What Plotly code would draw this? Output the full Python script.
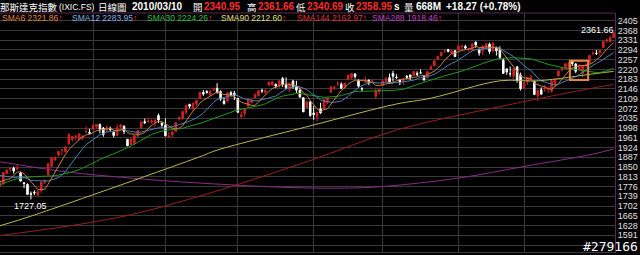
import pandas as pd
import plotly.graph_objects as go

# ---------------- data ----------------
holidays = ["2009-07-03", "2009-09-07", "2009-11-26", "2009-12-25",
            "2010-01-01", "2010-01-18", "2010-02-15"]
dates = [d.strftime("%Y-%m-%d") for d in pd.bdate_range("2009-06-24", "2010-03-10")
         if d.strftime("%Y-%m-%d") not in holidays]

opens = [
    1778.0, 1786.0, 1826.0, 1843.0, 1846.0, 1842.0, 1827.0, 1790.0, 1784.0, 1749.0,
    1755.0, 1744.0, 1762.0, 1792.0, 1820.0, 1853.0, 1877.0, 1895.0, 1915.0, 1908.0,
    1938.0, 1955.0, 1966.0, 1955.0, 1963.0, 1983.0, 1981.0, 1993.0, 2003.0, 2012.0,
    1998.0, 1991.0, 1997.0, 1982.0, 1970.0, 2001.0, 2005.0, 1955.0, 1935.0, 1940.0,
    1968.0, 2000.0, 2022.0, 2022.0, 2021.0, 2018.0, 2045.0, 2017.0, 2008.0, 1964.0,
    1972.0, 1985.0, 2032.0, 2034.0, 2058.0, 2087.0, 2070.0, 2090.0, 2110.0, 2133.0,
    2137.0, 2123.0, 2144.0, 2148.0, 2136.0, 2100.0, 2100.0, 2132.0, 2130.0, 2110.0,
    2040.0, 2053.0, 2081.0, 2095.0, 2112.0, 2120.0, 2141.0, 2133.0, 2161.0, 2161.0,
    2164.0, 2158.0, 2186.0, 2162.0, 2145.0, 2176.0, 2157.0, 2141.0, 2113.0, 2075.0,
    2097.0, 2055.0, 2041.0, 2071.0, 2071.0, 2094.0, 2134.0, 2150.0, 2166.0, 2164.0,
    2152.0, 2181.0, 2189.0, 2203.0, 2180.0, 2147.0, 2171.0, 2180.0, 2176.0, 2119.0,
    2136.0, 2159.0, 2175.0, 2189.0, 2205.0, 2190.0, 2180.0, 2177.0, 2194.0, 2199.0,
    2197.0, 2205.0, 2207.0, 2194.0, 2190.0, 2221.0, 2234.0, 2259.0, 2272.0, 2290.0,
    2296.0, 2281.0, 2291.0, 2294.0, 2308.0, 2307.0, 2298.0, 2292.0, 2324.0, 2297.0,
    2289.0, 2303.0, 2316.0, 2291.0, 2304.0, 2294.0, 2255.0, 2222.0, 2204.0, 2196.0,
    2230.0, 2198.0, 2151.0, 2173.0, 2183.0, 2174.0, 2120.0, 2143.0, 2146.0, 2147.0,
    2137.0, 2162.0, 2195.0, 2222.0, 2225.0, 2228.0, 2250.0, 2241.0, 2222.0, 2205.0,
    2237.0, 2245.0, 2280.0, 2282.0, 2284.0, 2303.0, 2327.0, 2325.0, 2340.95]

highs = [
    1800.5, 1831.0, 1842.0, 1850.0, 1852.0, 1860.0, 1832.0, 1793.0, 1788.0, 1757.0,
    1761.0, 1763.0, 1793.5, 1802.0, 1864.0, 1886.0, 1889.0, 1911.0, 1917.0, 1930.0,
    1977.0, 1967.0, 1969.0, 1977.0, 1970.0, 2004.0, 1995.0, 2009.0, 2012.0, 2014.0,
    2002.0, 2008.0, 2003.0, 1984.0, 2012.0, 2013.0, 2008.0, 1956.0, 1957.0, 1971.0,
    1990.0, 2021.0, 2034.0, 2038.0, 2031.0, 2030.0, 2053.0, 2018.0, 2034.0, 1983.0,
    1985.0, 2019.0, 2040.0, 2064.0, 2084.5, 2090.0, 2093.0, 2104.0, 2134.0, 2142.0,
    2141.0, 2140.0, 2152.0, 2168.0, 2141.0, 2112.0, 2134.0, 2139.0, 2139.0, 2112.0,
    2062.0, 2074.0, 2110.0, 2107.0, 2130.0, 2140.0, 2147.0, 2145.0, 2173.0, 2174.0,
    2166.0, 2180.0, 2191.0, 2190.0, 2170.0, 2181.0, 2177.0, 2150.0, 2114.0, 2099.0,
    2100.0, 2082.0, 2058.0, 2094.0, 2106.0, 2116.0, 2155.0, 2159.0, 2176.0, 2171.0,
    2168.0, 2201.0, 2204.0, 2206.0, 2181.0, 2153.0, 2193.0, 2181.0, 2183.0, 2148.0,
    2146.0, 2180.0, 2192.0, 2204.0, 2215.0, 2202.0, 2184.0, 2186.0, 2199.0, 2200.0,
    2213.0, 2213.0, 2220.0, 2197.0, 2214.0, 2237.0, 2254.0, 2270.0, 2286.0, 2295.0,
    2296.0, 2292.0, 2293.0, 2311.0, 2313.0, 2314.0, 2301.0, 2317.6, 2326.0, 2298.0,
    2313.0, 2322.0, 2322.0, 2321.0, 2306.0, 2308.0, 2262.0, 2224.0, 2231.0, 2226.0,
    2232.0, 2208.0, 2171.5, 2190.5, 2200.0, 2175.0, 2142.0, 2152.0, 2162.0, 2155.0,
    2181.0, 2184.0, 2215.0, 2227.0, 2242.0, 2248.0, 2253.0, 2244.0, 2240.0, 2235.0,
    2244.0, 2274.0, 2290.0, 2294.0, 2293.0, 2327.0, 2336.0, 2346.0, 2361.66]

lows = [
    1776.0, 1783.0, 1822.0, 1832.0, 1825.0, 1840.0, 1795.0, 1770.0, 1745.0, 1727.05,
    1743.0, 1740.0, 1752.0, 1785.0, 1819.0, 1851.0, 1873.0, 1890.0, 1894.0, 1906.0,
    1934.0, 1947.0, 1952.0, 1950.0, 1953.0, 1979.0, 1976.0, 1990.0, 1996.0, 1978.0,
    1965.0, 1981.0, 1985.0, 1962.0, 1968.0, 1995.0, 1975.0, 1929.0, 1933.0, 1935.0,
    1965.0, 1995.0, 2013.0, 2019.0, 2015.0, 2002.0, 2017.0, 1999.0, 1966.0, 1963.0,
    1962.0, 1983.0, 2025.0, 2030.0, 2050.0, 2072.0, 2068.0, 2082.0, 2108.0, 2120.0,
    2128.0, 2119.0, 2137.0, 2130.0, 2101.0, 2086.0, 2098.0, 2117.0, 2104.0, 2056.0,
    2038.0, 2041.0, 2080.0, 2094.0, 2109.0, 2119.0, 2130.0, 2128.0, 2158.0, 2160.0,
    2149.0, 2150.0, 2154.0, 2146.0, 2135.0, 2147.0, 2131.0, 2112.0, 2058.0, 2073.0,
    2041.0, 2029.0, 2024.0, 2051.0, 2070.0, 2089.0, 2131.0, 2143.0, 2156.0, 2146.0,
    2149.0, 2180.0, 2183.0, 2185.0, 2150.0, 2136.0, 2170.0, 2160.0, 2172.0, 2108.0,
    2126.0, 2158.0, 2174.0, 2170.0, 2174.0, 2184.0, 2160.0, 2162.0, 2184.0, 2180.0,
    2195.0, 2195.0, 2203.0, 2178.0, 2186.0, 2220.0, 2232.0, 2255.0, 2272.0, 2283.0,
    2285.0, 2279.0, 2268.0, 2294.0, 2295.0, 2296.0, 2285.0, 2290.0, 2302.0, 2272.0,
    2274.0, 2303.0, 2279.0, 2285.0, 2273.0, 2259.0, 2203.0, 2200.0, 2193.0, 2181.0,
    2170.0, 2140.0, 2145.0, 2162.0, 2181.0, 2125.0, 2100.0, 2126.0, 2135.0, 2131.0,
    2132.0, 2155.0, 2194.0, 2212.0, 2224.0, 2227.0, 2233.0, 2206.0, 2222.0, 2190.0,
    2225.0, 2243.0, 2275.0, 2275.0, 2272.0, 2302.0, 2322.0, 2325.0, 2340.69]

closes = [
    1792.34, 1829.54, 1838.22, 1844.06, 1835.04, 1845.72, 1796.52, 1787.40, 1746.17, 1747.17,
    1752.55, 1756.03, 1793.21, 1799.73, 1862.90, 1885.03, 1886.61, 1909.29, 1916.20, 1926.38,
    1973.60, 1965.96, 1967.89, 1975.51, 1967.76, 1984.30, 1978.50, 2008.61, 2011.31, 1993.05,
    1973.16, 2000.25, 1992.24, 1969.73, 1998.72, 2009.35, 1985.52, 1930.84, 1955.92, 1969.24,
    1989.22, 2020.90, 2017.98, 2024.23, 2024.43, 2027.73, 2028.77, 2009.06, 1968.89, 1967.07,
    1983.20, 2018.78, 2037.77, 2060.39, 2084.02, 2080.90, 2091.78, 2102.64, 2133.15, 2126.75,
    2132.86, 2138.04, 2146.30, 2131.42, 2107.61, 2090.92, 2130.74, 2124.04, 2122.42, 2057.48,
    2048.11, 2068.15, 2103.57, 2103.11, 2123.93, 2139.28, 2139.14, 2139.89, 2172.23, 2173.29,
    2156.80, 2176.32, 2163.47, 2150.41, 2165.29, 2154.47, 2141.85, 2116.09, 2059.61, 2097.55,
    2045.11, 2049.20, 2057.32, 2055.52, 2105.32, 2112.44, 2154.06, 2151.08, 2166.90, 2149.02,
    2167.88, 2197.85, 2203.78, 2193.14, 2156.82, 2146.04, 2176.01, 2169.18, 2176.05, 2138.44,
    2144.60, 2175.81, 2185.03, 2173.14, 2194.35, 2189.61, 2172.99, 2183.73, 2190.86, 2190.31,
    2212.10, 2201.05, 2206.91, 2180.05, 2211.69, 2229.76, 2252.67, 2269.64, 2285.69, 2291.08,
    2288.40, 2291.28, 2269.15, 2308.42, 2308.71, 2301.09, 2300.05, 2317.17, 2312.41, 2282.31,
    2307.90, 2316.74, 2287.99, 2320.40, 2291.25, 2265.70, 2205.29, 2210.80, 2203.73, 2221.41,
    2179.00, 2147.35, 2171.20, 2190.06, 2190.91, 2125.43, 2141.12, 2126.05, 2150.87, 2147.87,
    2177.41, 2183.53, 2214.19, 2226.29, 2241.71, 2243.87, 2242.03, 2213.44, 2235.90, 2234.22,
    2238.26, 2273.57, 2280.79, 2280.68, 2292.31, 2326.35, 2332.21, 2340.68, 2358.95]

# closes of the 29 sessions before the window (needed by the moving averages)
pre_window_closes = [
    1664.19, 1689.21, 1680.14, 1732.36, 1734.54, 1727.84, 1695.25, 1692.01, 1750.43, 1731.08,
    1751.79, 1774.33, 1828.68, 1836.80, 1825.92, 1860.13, 1849.42, 1842.40, 1860.76, 1853.08,
    1862.37, 1858.80, 1816.38, 1796.18, 1808.06, 1807.72, 1827.47, 1766.19, 1764.92]

# long moving averages (session index -> value)
sma90_idx = [0, 10, 58, 63, 90, 115, 125, 145, 156, 173, 178]
sma90_val = [1627, 1668, 1889, 1914, 2006, 2089, 2111, 2177, 2177, 2205, 2212.60]
sma144_idx = [0, 34, 58, 89, 115, 145, 173, 178]
sma144_val = [1590, 1658, 1740, 1870, 1990, 2079, 2152, 2162.97]
sma288_idx = [0, 19, 38, 58, 85, 100, 111, 133, 152, 172, 178]
sma288_val = [1870, 1832, 1808, 1789, 1772, 1770, 1776, 1808, 1852, 1899, 1918.46]

y_ticks = [1554 + 37 * k for k in range(24)]
highlight_dates = ["2010-02-22", "2010-02-26"]

title_cn = "那斯達克指數"
title_code = "(IXIC.FS)"
title_kind = "日線圖"
last_date = "2010/03/10"
last_open, last_high, last_low, last_close = "2340.95", "2361.66", "2340.69", "2358.95"
last_vol = "668M"
last_change = "+18.27 (+0.78%)"
watermark = "#279166"

legend_items = [("SMA6", "2321.86", "#e08a40"), ("SMA12", "2283.95", "#7fb0e0"),
                ("SMA30", "2224.26", "#30c040"), ("SMA90", "2212.60", "#e0e080"),
                ("SMA144", "2162.97", "#e03030"), ("SMA288", "1918.46", "#c040c0")]

# ---------------- figure ----------------
n = len(dates)
idx = list(range(n))
allc = pd.Series(pre_window_closes + closes)
k0 = len(pre_window_closes)
sma6 = allc.rolling(6).mean().tolist()[k0:]
sma12 = allc.rolling(12).mean().tolist()[k0:]
sma30 = allc.rolling(30).mean().tolist()[k0:]

month_starts = [i for i in range(1, n) if dates[i][5:7] != dates[i - 1][5:7]][1:-1]

fig = go.Figure()
fig.add_trace(go.Candlestick(
    x=idx, open=opens, high=highs, low=lows, close=closes,
    increasing=dict(line=dict(color="#d42424", width=1), fillcolor="#c41c1c"),
    decreasing=dict(line=dict(color="#ffffff", width=1), fillcolor="#ffffff"),
    whiskerwidth=0, hoverinfo="skip"))

line_specs = [
    (sma288_idx, sma288_val, "#8a2c8a", "spline"),
    (sma144_idx, sma144_val, "#9a1e1e", "spline"),
    (sma90_idx, sma90_val, "#b8b850", "spline"),
    (idx, sma30, "#1e9a1e", "linear"),
    (idx, sma12, "#4a80b8", "linear"),
    (idx, sma6, "#c8803c", "linear"),
]
for xs, ys, col, shp in line_specs:
    fig.add_trace(go.Scatter(x=xs, y=ys, mode="lines", line=dict(color=col, width=1, shape=shp),
                             hoverinfo="skip"))

# plot-area geometry (pixels)
PL, PR, PT, PB = 0, 615, 13, 252
W, H = 640, 255


def pxx(p):
    return (p - PL) / (PR - PL)


def pxy(p):
    return (PB - p) / (PB - PT)


ann = []


def add_text(text, x, y, color="#ffffff", size=10, family="Liberation Sans", bold=False,
             anchor="left"):
    t = f"<b>{text}</b>" if bold else text
    ann.append(dict(text=t, x=pxx(x), y=pxy(y), xref="paper", yref="paper",
                    xanchor=anchor, yanchor="middle", showarrow=False, borderpad=0,
                    font=dict(color=color, size=size, family=family)))


CJK = "Noto Sans CJK TC"
RED = "#ff2a2a"
ty = 6.5
add_text(title_cn, -1, ty, size=9.5, family=CJK)
add_text(title_code, 58, ty, size=8.5)
add_text(title_kind, 97, ty, size=9.5, family=CJK)
add_text(last_date, 131, ty, size=10, bold=True)
add_text("開", 192, ty, size=9.5, family=CJK)
add_text(last_open, 203, ty, color=RED, size=10, bold=True)
add_text("高", 246, ty, size=9.5, family=CJK)
add_text(last_high, 257, ty, color=RED, size=10, bold=True)
add_text("低", 295, ty, size=9.5, family=CJK)
add_text(last_low, 306, ty, color=RED, size=10, bold=True)
add_text("收", 344, ty, size=9.5, family=CJK)
add_text(last_close, 355, ty, color=RED, size=10, bold=True)
add_text("s", 393, ty, size=10, bold=True)
add_text("量", 403, ty, size=9.5, family=CJK)
add_text(last_vol, 415, ty, size=10, bold=True)
add_text(last_change, 445, ty, size=10, bold=True)

leg_x = [1, 71, 146, 220, 296, 371]
for (name, val, col), lx in zip(legend_items, leg_x):
    add_text(f"{name} {val}<span style='color:#ff3030'>↑</span>", lx, 17.5, color=col, size=8.5)

add_text(watermark, 582, 246.5, size=13, family="DejaVu Sans Mono")

# high / low value labels
i_low = lows.index(min(lows))
i_high = highs.index(max(highs))
ann.append(dict(text=f"{min(lows):.2f}", x=i_low, y=min(lows), xref="x", yref="y",
                xanchor="center", yanchor="top", showarrow=False, yshift=0,
                font=dict(color="#ffffff", size=9, family="Liberation Sans")))
ann.append(dict(text=f"{max(highs):.2f}", x=i_high, y=max(highs), xref="x", yref="y",
                xanchor="right", yanchor="middle", showarrow=False, yshift=2, xshift=2,
                font=dict(color="#ffffff", size=9, family="Liberation Sans")))

hx0 = dates.index(highlight_dates[0])
hx1 = dates.index(highlight_dates[1])
shapes = [
    dict(type="rect", xref="x", yref="y", x0=hx0 - 0.7, x1=hx1 + 0.6,
         y0=min(lows[hx0:hx1 + 1]) - 10, y1=max(highs[hx0:hx1 + 1]),
         line=dict(color="#e8843c", width=2), fillcolor="rgba(0,0,0,0)", layer="above"),
    dict(type="line", xref="paper", yref="paper", x0=0, x1=1, y0=1, y1=1,
         line=dict(color="#5a2a4e", width=1)),
]

y_lo = 1591 - (PB - 235.3) / 0.2636
y_hi = 2405 + (20.7 - PT) / 0.2636
x_lo = (PL + 0.1) / 3.448
x_hi = (PR + 0.1) / 3.448

fig.update_layout(
    width=W, height=H, margin=dict(l=PL, r=W - PR, t=PT, b=H - PB),
    paper_bgcolor="#000000", plot_bgcolor="#000000", showlegend=False,
    annotations=ann, shapes=shapes,
    xaxis=dict(range=[x_lo, x_hi], tickvals=month_starts, showticklabels=False, ticks="",
               showgrid=True, gridcolor="#3a3a3a", gridwidth=1, zeroline=False,
               showline=True, linecolor="#3a3a3a", rangeslider=dict(visible=False),
               fixedrange=True),
    yaxis=dict(range=[y_lo, y_hi], side="right", tickvals=y_ticks,
               ticktext=[str(v) if v >= 1591 else "" for v in y_ticks],
               showgrid=True, gridcolor="#3a3a3a", gridwidth=1, zeroline=False,
               showline=True, linecolor="#5a2a4e", linewidth=1, ticks="",
               tickfont=dict(color="#e0e0e0", size=9, family="Liberation Sans"),
               fixedrange=True),
    boxgap=0.35,
)

fig.write_html("out.html")
